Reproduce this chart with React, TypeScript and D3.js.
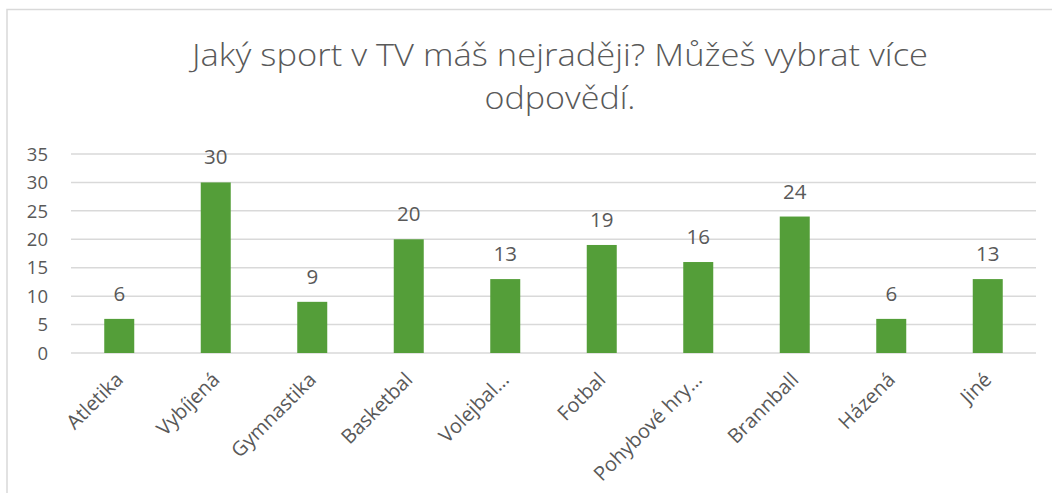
import React from "react";
import * as d3 from "d3";

const categories = ["Atletika", "Vybíjená", "Gymnastika", "Basketbal", "Volejbal…", "Fotbal", "Pohybové hry…", "Brannball", "Házená", "Jiné"];
const values = [6, 30, 9, 20, 13, 19, 16, 24, 6, 13];
const yTicks = [0, 5, 10, 15, 20, 25, 30, 35];
const titleLines = ["Jaký sport v TV máš nejraději? Můžeš vybrat více", "odpovědí."];
const titleWidths = [736, 151];

const W = 1052;
const H = 493;
const plotLeft = 71;
const plotRight = 1036;
const plotTop = 154;
const plotBottom = 353;
const FONT = "'Open Sans', 'Noto Sans', sans-serif";
const TEXT = "#595959";

export default function App() {
  const x = d3.scaleBand<string>().domain(categories).range([plotLeft, plotRight]).paddingInner(0.69).paddingOuter(0.345);
  const y = d3.scaleLinear().domain([0, 35]).range([plotBottom, plotTop]);
  const step = x.step();
  const center = (c: string) => plotLeft + step * (categories.indexOf(c) + 0.5);
  const bw = 30;

  return (
    <svg width={W} height={H} style={{ position: "absolute", left: 0, top: 0 }} fontFamily={FONT}>
      <rect x={0} y={0} width={W} height={H} fill="#fff" />
      <rect x={7} y={9.5} width={W + 20} height={H + 20} fill="none" stroke="#d9d9d9" strokeWidth={1.5} />
      {titleLines.map((t, i) => (
        <text
          key={i}
          x={560 - titleWidths[i] / 2}
          y={66 + i * 43}
          textLength={titleWidths[i]}
          lengthAdjust="spacingAndGlyphs"
          fontSize={31}
          fontWeight={300}
          fill={TEXT}
        >
          {t}
        </text>
      ))}
      {yTicks.map((t) => (
        <g key={t}>
          <line x1={plotLeft} x2={plotRight} y1={y(t)} y2={y(t)} stroke="#d9d9d9" strokeWidth={1.5} />
          <text x={48} y={y(t)} dy="0.36em" textAnchor="end" fontSize={18.5} fill={TEXT}>
            {t}
          </text>
        </g>
      ))}
      {categories.map((c, i) => (
        <g key={c}>
          <rect x={center(c) - bw / 2} y={y(values[i])} width={bw} height={y(0) - y(values[i])} fill="#549e39" />
          <text x={center(c)} y={y(values[i]) - 18} textAnchor="middle" fontSize={20.5} fill={TEXT}>
            {values[i]}
          </text>
          <text
            transform={`translate(${center(c) + 5},${plotBottom + 28}) rotate(-45)`}
            textAnchor="end"
            fontSize={20}
            fill={TEXT}
          >
            {c}
          </text>
        </g>
      ))}
    </svg>
  );
}
